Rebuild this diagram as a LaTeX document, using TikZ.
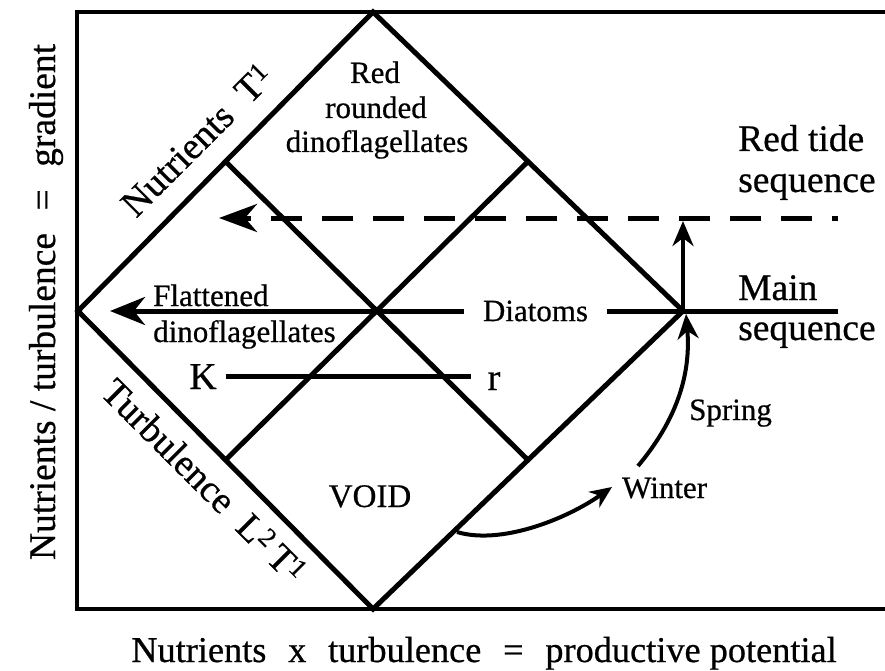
\documentclass[tikz,border=0pt]{standalone}
\usepackage{fontspec}
\setmainfont{Liberation Serif}[FakeBold=0.6]
\usetikzlibrary{arrows.meta,calc}

\begin{document}
\begin{tikzpicture}[x=1pt,y=-1pt,
  frameline/.style={line width=3.2pt, line cap=rect},
  edge/.style={line width=5pt, line join=miter},
  mainline/.style={line width=5pt},
  flow/.style={line width=4pt},
  bigtip/.style={-{Stealth[length=35pt,width=28pt,inset=11pt]}},
  midtip/.style={-{Stealth[length=25pt,width=21pt,inset=8pt]}},
  smalltip/.style={-{Stealth[length=22pt,width=19pt,inset=7pt]}},
  region/.style={font=\fontsize{31}{34}\selectfont, inner sep=0pt},
  side/.style={font=\fontsize{37.5}{40}\selectfont, inner sep=0pt},
  axis/.style={font=\fontsize{36.3}{40}\selectfont, inner sep=0pt},
  tilted/.style={font=\fontsize{38}{40}\selectfont, inner sep=0pt}
]
\useasboundingbox (0,0) rectangle (885,671);

% outer frame (open on the right)
\draw[frameline] (890,12) -- (77,12) -- (77,609) -- (890,609);

% diamond corners and edge midpoints
\coordinate (T) at (373,12);
\coordinate (L) at (78,311);
\coordinate (B) at (373,609);
\coordinate (R) at (683,311);
\coordinate (TLm) at ($(T)!0.5!(L)$);
\coordinate (TRm) at ($(T)!0.5!(R)$);
\coordinate (BLm) at ($(B)!0.5!(L)$);
\coordinate (BRm) at ($(B)!0.5!(R)$);

% diamond and its inner grid
\draw[edge] (T) -- (R) -- (B) -- (L) -- cycle;
\draw[edge] (TLm) -- (BRm);
\draw[edge] (TRm) -- (BLm);

% region labels
\node[region, anchor=base] (red1) at (375,83) {Red};
\node[region, anchor=base] (red2) at (376,118) {rounded};
\node[region, anchor=base] (red3) at (377,152) {dinoflagellates};
\node[region, anchor=base west] (flat1) at (153,306) {Flattened};
\node[region, anchor=base west] (flat2) at (153,342) {dinoflagellates};
\node[region, anchor=base] (void) at (370,507) {\fontsize{33}{36}\selectfont VOID};

% main sequence line, broken by the Diatoms label
\coordinate (mainR) at (838,311);
\coordinate (flatTip) at (110,311);
\node[region, inner xsep=19pt, inner ysep=2pt] (diat) at (535.5,311) {Diatoms};
\draw[mainline] (mainR) -- (diat);
\draw[mainline, bigtip] (diat) -- (flatTip);

% red tide sequence (dashed)
\coordinate (dashR) at (838,218);
\coordinate (dashL) at (219,218);
\draw[mainline, dash pattern=on 31pt off 20pt, dash phase=25pt,
      -{Stealth[length=38pt,width=28pt,inset=12pt]}] (dashR) -- (dashL);

% switch from main to red tide sequence
\coordinate (upTip) at (683,221);
\draw[flow, midtip] (R) -- (upTip);

% K -- r line
\node[font=\fontsize{38}{40}\selectfont, inner sep=0pt, inner xsep=9pt, anchor=base] (K) at (203,389) {K};
\node[font=\fontsize{38}{40}\selectfont, inner sep=0pt, inner xsep=16pt, anchor=base] (r) at (494,390) {r};
\draw[mainline] (K.east) -- (K.east -| r.west);

% seasonal path
\coordinate (wStart) at (457,532);
\coordinate (wTip) at (612,487);
\coordinate (sStart) at (638,466);
\coordinate (sTip) at (686,314);
\draw[flow, smalltip] (wStart) .. controls (500,545) and (565,520) .. (wTip);
\draw[flow, midtip] (sStart) .. controls (668,430) and (692,385) .. (sTip);
\node[region, anchor=base west] (winter) at (622,498) {Winter};
\node[region, anchor=base west] (spring) at (689,420) {Spring};

% sequence names
\node[side, anchor=base west] (rt1) at (738,151) {Red tide};
\node[side, anchor=base west] (rt2) at (738,192) {sequence};
\node[side, anchor=base west] (ms1) at (738,300) {Main};
\node[side, anchor=base west] (ms2) at (738,340) {sequence};

% labels along the diamond edges
\node[tilted, rotate=45, anchor=base] (nutT) at (206,149)
  {Nutrients\hspace{0.5em}T\textsuperscript{1}};
\node[tilted, rotate=-45, anchor=base] (turbL) at (195,490)
  {Turbulence\hspace{0.5em}L\textsuperscript{2}\,T\textsuperscript{1}};

% axis titles
\node[axis, anchor=base] (xax) at (484,662)
  {Nutrients\hspace{0.6em}x\hspace{0.6em}turbulence\hspace{0.6em}=\hspace{0.6em}productive potential};
\node[axis, rotate=90, anchor=base, font=\fontsize{37.5}{40}\selectfont] (yax) at (55,302)
  {Nutrients / turbulence\hspace{0.6em}=\hspace{0.6em}gradient};
\end{tikzpicture}
\end{document}
